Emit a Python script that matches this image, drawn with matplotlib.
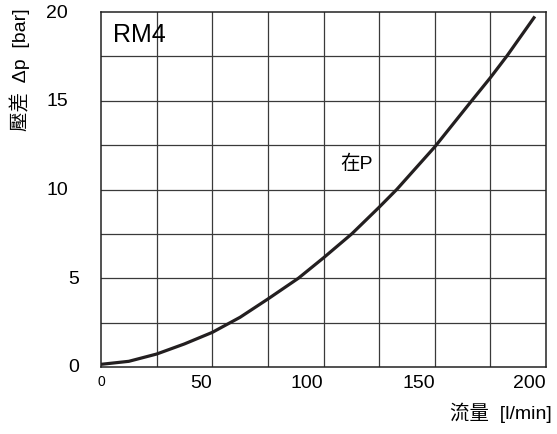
import numpy as np
import matplotlib
matplotlib.use("Agg")
import matplotlib.pyplot as plt
import matplotlib.transforms as mtransforms

# values
flow = [0, 12.5, 25, 37.5, 50, 62.5, 75, 88.7, 100, 112.7, 125, 132.9, 150, 166.6, 175, 182.3, 195]
dp = [0.15, 0.32, 0.73, 1.3, 1.95, 2.8, 3.83, 5.0, 6.15, 7.5, 9.0, 10.0, 12.4, 15.0, 16.3, 17.5, 19.75]

x_ticks = [0, 50, 100, 150, 200]
y_ticks = [0, 5, 10, 15, 20]
x_grid = np.arange(0, 201, 25)
y_grid = np.arange(0, 20.1, 2.5)

latin_cjk = ["Liberation Sans", "Noto Sans CJK TC", "DejaVu Sans"]
plt.rcParams["font.family"] = latin_cjk

fig = plt.figure(figsize=(5.57, 4.35), dpi=100)
ax = fig.add_axes([101 / 557, 1 - 368 / 435, 445 / 557, 355 / 435])

ax.set_xlim(0, 200)
ax.set_ylim(0, 20)

for gx in x_grid[1:-1]:
    ax.axvline(gx, color="#3a3a3a", lw=0.9, zorder=1)
for gy in y_grid[1:-1]:
    ax.axhline(gy, color="#3a3a3a", lw=0.9, zorder=1)
for s in ax.spines.values():
    s.set_linewidth(1.1)
    s.set_color("#222222")

ax.plot(flow, dp, color="#231f20", lw=2.3, solid_capstyle="butt", solid_joinstyle="round", zorder=3)

# x tick labels: right aligned to the grid line, "0" smaller and centred
ax.set_xticks(x_ticks)
ax.set_xticklabels([str(v) for v in x_ticks])
ax.tick_params(axis="x", length=0, pad=5, labelsize=14)
for lab in ax.get_xticklabels():
    if lab.get_text() == "0":
        lab.set_fontsize(10)
        lab.set_ha("center")
    else:
        lab.set_ha("right")

# y tick labels placed as text
ax.set_yticks([])
blend = mtransforms.blended_transform_factory(ax.transAxes, ax.transData)
for v in y_ticks:
    xr = -0.0742 if v >= 10 else -0.0494
    ax.text(xr, v, str(v), transform=blend, ha="right", va="center", fontsize=14)

ax.text(0.027, 0.938, "RM4", transform=ax.transAxes, ha="left", va="center", fontsize=18)
ax.text(107.4, 11.5, "在P", ha="left", va="center", fontsize=14)

fig.text(20 / 557, 1 - 8 / 435, "壓差  Δp  [bar]", rotation=90, ha="center", va="top", fontsize=14)
fig.text(552 / 557, 1 - 413 / 435, "流量  [l/min]", ha="right", va="center", fontsize=14)

fig.savefig("out.png", dpi=100)
